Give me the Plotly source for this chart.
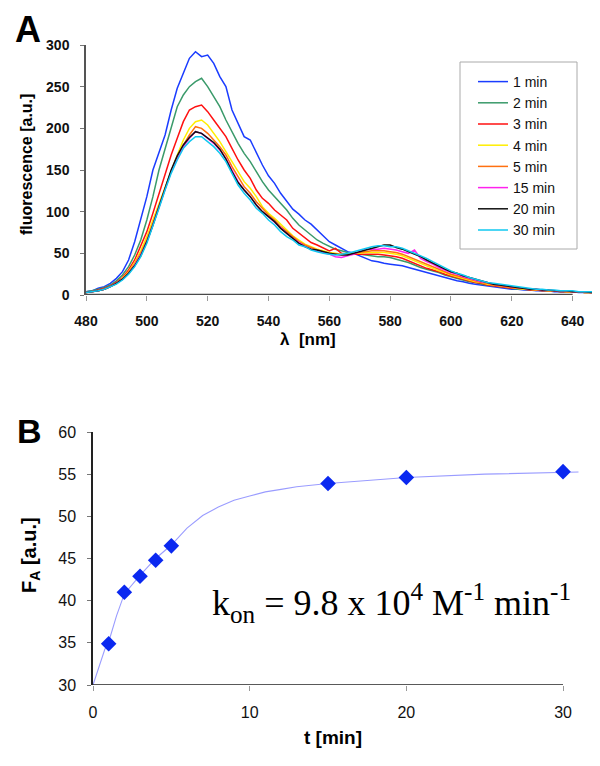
import plotly.graph_objects as go

# ---------------- Panel A data ----------------
wavelength = list(range(480, 652, 2))

s_1min = [4, 5, 8, 10, 14, 20, 28, 42, 64, 90, 118, 150, 172, 192, 222, 248, 266, 284, 292, 286,
          288, 278, 262, 250, 222, 206, 190, 186, 170, 156, 143, 134, 122, 112, 103, 97, 90, 85, 78, 70,
          64, 60, 56, 52, 50, 47, 44, 41, 40, 38, 37, 36, 35, 33, 31, 29, 27, 25, 23, 21,
          19, 17, 16, 14, 13, 12, 11, 10, 9, 8, 7, 7, 6, 6, 5, 5, 5, 4, 4, 4,
          4, 3, 3, 3, 3, 3]
s_2min = [4, 5, 7, 9, 12, 17, 24, 34, 48, 66, 90, 118, 150, 176, 202, 226, 240, 250, 256, 260,
          250, 238, 226, 210, 196, 182, 170, 160, 148, 136, 126, 118, 110, 102, 92, 84, 78, 72, 66, 62,
          58, 55, 53, 51, 50, 49, 48, 47, 46, 46, 45, 43, 41, 39, 36, 33, 31, 29, 27, 24,
          22, 20, 18, 16, 15, 13, 12, 11, 10, 9, 8, 7, 7, 6, 6, 5, 5, 5, 4, 4,
          4, 4, 3, 3, 3, 3]
s_3min = [3, 4, 6, 8, 11, 15, 21, 30, 42, 58, 76, 98, 122, 146, 168, 188, 208, 222, 226, 228,
          220, 210, 200, 190, 176, 162, 150, 140, 126, 116, 110, 102, 96, 90, 80, 74, 68, 63, 60, 56,
          53, 56, 50, 49, 49, 49, 49, 49, 49, 48, 47, 46, 44, 41, 38, 35, 32, 30, 28, 25,
          23, 21, 19, 17, 15, 14, 12, 11, 10, 9, 8, 8, 7, 6, 6, 5, 5, 5, 4, 4,
          4, 4, 3, 3, 3, 3]
s_4min = [3, 4, 5, 7, 10, 14, 20, 28, 39, 53, 70, 90, 110, 128, 148, 168, 186, 200, 208, 210,
          204, 194, 184, 172, 160, 148, 136, 128, 118, 106, 98, 92, 85, 79, 71, 66, 61, 58, 55, 53,
          51, 50, 49, 49, 50, 50, 51, 51, 51, 51, 50, 49, 47, 44, 41, 38, 35, 32, 29, 27,
          24, 22, 20, 18, 16, 15, 13, 12, 11, 10, 9, 8, 7, 7, 6, 6, 5, 5, 5, 4,
          4, 4, 3, 3, 3, 3]
s_5min = [3, 4, 5, 7, 10, 14, 19, 27, 37, 50, 66, 86, 108, 128, 148, 166, 180, 192, 202, 200,
          194, 186, 178, 168, 154, 142, 130, 122, 112, 104, 96, 90, 82, 76, 70, 64, 60, 57, 54, 52,
          50, 49, 49, 49, 50, 51, 52, 53, 53, 53, 52, 51, 49, 46, 43, 40, 37, 34, 31, 28,
          25, 23, 21, 19, 17, 15, 14, 12, 11, 10, 9, 8, 8, 7, 6, 6, 5, 5, 5, 4,
          4, 4, 3, 3, 3, 3]
s_15min = [3, 4, 5, 7, 10, 14, 19, 26, 36, 48, 64, 84, 106, 128, 148, 164, 178, 188, 196, 194,
           188, 182, 174, 164, 150, 136, 126, 118, 108, 100, 94, 87, 80, 74, 68, 63, 58, 55, 53, 51,
           49, 46, 45, 47, 49, 52, 55, 55, 55, 56, 55, 54, 52, 50, 54, 44, 40, 37, 33, 30,
           27, 25, 22, 20, 18, 16, 15, 13, 12, 11, 10, 9, 8, 7, 7, 6, 6, 5, 5, 5,
           4, 4, 4, 3, 4, 3]
s_20min = [3, 4, 5, 7, 10, 14, 19, 26, 35, 47, 64, 84, 106, 130, 150, 167, 180, 189, 196, 194,
           188, 183, 175, 163, 148, 135, 126, 118, 108, 100, 94, 88, 80, 74, 68, 62, 58, 55, 54, 52,
           50, 49, 48, 48, 50, 52, 54, 56, 58, 60, 60, 57, 55, 52, 49, 46, 42, 38, 35, 31,
           28, 26, 23, 21, 19, 17, 15, 13, 12, 11, 10, 9, 8, 7, 7, 6, 6, 5, 5, 5,
           4, 4, 4, 3, 3, 3]
s_30min = [3, 4, 5, 7, 10, 13, 18, 25, 34, 46, 62, 82, 104, 126, 146, 162, 176, 184, 190, 190,
           184, 178, 170, 160, 146, 132, 122, 114, 104, 98, 90, 84, 76, 70, 66, 60, 58, 54, 52, 50,
           49, 48, 49, 50, 52, 54, 56, 58, 59, 59, 58, 58, 56, 53, 50, 47, 44, 40, 36, 32,
           29, 26, 24, 21, 19, 17, 15, 14, 13, 12, 11, 10, 9, 8, 7, 7, 6, 6, 5, 5,
           5, 4, 4, 4, 3, 3]

series_names = ["1 min", "2 min", "3 min", "4 min", "5 min", "15 min", "20 min", "30 min"]
series_values = [s_1min, s_2min, s_3min, s_4min, s_5min, s_15min, s_20min, s_30min]
series_colors = ["#1a3cff", "#3a9a6a", "#ff1010", "#ffee00", "#ff7010", "#ff22ee", "#111111", "#10c8f0"]

xticks_a = [480, 500, 520, 540, 560, 580, 600, 620, 640]
yticks_a = [0, 50, 100, 150, 200, 250, 300]

# ---------------- Panel B data ----------------
t_points = [1, 2, 3, 4, 5, 15, 20, 30]
fa_points = [34.9, 41.0, 42.9, 44.8, 46.5, 53.9, 54.6, 55.3]

t_fit = [0, 0.25, 0.5, 0.75, 1, 1.5, 2, 3, 4, 5, 6, 7, 8, 9, 10, 11, 12, 13, 15, 17, 20, 25, 30, 31]
fa_fit = [30, 31.5, 33, 34.2, 35.1, 38.2, 40.8, 43, 45, 46.6, 48.6, 50.1, 51.1, 51.9, 52.4, 52.9,
          53.2, 53.5, 53.9, 54.2, 54.6, 55.0, 55.2, 55.25]

xticks_b = [0, 10, 20, 30]
yticks_b = [30, 35, 40, 45, 50, 55, 60]

# the page body has an 8 px default margin, so the figure is drawn 8 px in
OFF = 8
W, H = 600 - OFF, 766 - OFF
def px(x):
    return (x - OFF) / W
def py(y):
    return 1 - (y - OFF) / H

fig = go.Figure()

for name, vals, col in zip(series_names, series_values, series_colors):
    fig.add_trace(go.Scatter(x=wavelength, y=vals, mode="lines", name=name,
                             line=dict(color=col, width=1.5), xaxis="x", yaxis="y"))

fig.add_trace(go.Scatter(x=t_fit, y=fa_fit, mode="lines", showlegend=False,
                         line=dict(color="#9a9cff", width=1.1), xaxis="x2", yaxis="y2"))
fig.add_trace(go.Scatter(x=t_points, y=fa_points, mode="markers", showlegend=False,
                         marker=dict(symbol="diamond", size=12, color="#0a28f0"),
                         xaxis="x2", yaxis="y2"))

tickfont_a = dict(family="Liberation Sans, Arial", size=14, color="#111111")
tickfont_b = dict(family="Liberation Sans, Arial", size=16, color="#111111")

fig.update_layout(
    template="none",
    width=W, height=H,
    margin=dict(l=0, r=0, t=0, b=0, pad=0),
    paper_bgcolor="white", plot_bgcolor="white",
    xaxis=dict(domain=[px(86), px(600)], range=[480, 649], tickvals=xticks_a,
               ticktext=["<b>%d</b>" % v for v in xticks_a], tickfont=tickfont_a,
               ticks="outside", ticklen=5, tickcolor="#999999", showgrid=False,
               zeroline=False, showline=False, anchor="y", automargin=False,
               ticklabelstandoff=8),
    yaxis=dict(domain=[py(295), py(45)], range=[0, 300], tickvals=yticks_a,
               ticktext=["<b>%d</b>" % v for v in yticks_a], tickfont=tickfont_a,
               ticks="outside", ticklen=4, tickcolor="#777777", showgrid=False,
               zeroline=False, showline=True, linecolor="#555555", linewidth=1.5,
               anchor="x", automargin=False, ticklabelstandoff=8),
    xaxis2=dict(domain=[px(93), px(578.7)], range=[0, 31], tickvals=xticks_b,
                tickfont=tickfont_b, ticks="outside", ticklen=5, tickcolor="#999999",
                showgrid=False, zeroline=False, showline=False, anchor="y2",
                automargin=False, ticklabelstandoff=8),
    yaxis2=dict(domain=[py(685), py(432)], range=[30, 60], tickvals=yticks_b,
                tickfont=tickfont_b, ticks="outside", ticklen=4, tickcolor="#777777",
                showgrid=False, zeroline=False, showline=True, linecolor="#222222",
                linewidth=1.5, anchor="x2", automargin=False, ticklabelstandoff=8),
    legend=dict(x=px(473), y=py(66), xanchor="left", yanchor="top",
                borderwidth=0, bgcolor="rgba(0,0,0,0)",
                font=dict(family="Liberation Sans, Arial", size=14, color="#111111"),
                tracegroupgap=0),
    showlegend=True,
)

# legend frame as in the reference
fig.add_shape(type="rect", xref="paper", yref="paper", x0=px(460), x1=px(577),
              y0=py(249), y1=py(62), line=dict(color="#aaaaaa", width=1),
              fillcolor="white", layer="below")
# axis baselines stopping at the last tick, as in the reference
fig.add_shape(type="line", xref="x", yref="y", x0=480, x1=640, y0=0, y1=0,
              line=dict(color="#4a4a4a", width=2.5))
fig.add_shape(type="line", xref="x2", yref="y2", x0=0, x1=30, y0=30, y1=30,
              line=dict(color="#222222", width=1.5))

def label(text, x, y, size, angle=0, family="Liberation Sans, Arial", xanchor="center"):
    return dict(text=text, x=px(x), y=py(y), xref="paper", yref="paper",
                xanchor=xanchor, yanchor="middle", textangle=angle, showarrow=False,
                font=dict(family=family, size=size, color="black"))

ann = [
    label("<b>A</b>", 28, 29, 36),
    label("<b>B</b>", 29, 431, 34),
    label("<b>fluorescence [a.u.]</b>", 27, 165, 16, angle=-90),
    label("<b>λ  [nm]</b>", 308, 340, 17),
    label("<b>F<sub>A</sub> [a.u.]</b>", 30, 555, 20, angle=-90),
    label("<b>t [min]</b>", 333, 737, 19),
    label("k<sub>on</sub> = 9.8 x 10<sup>4</sup> M<sup>-1</sup> min<sup>-1</sup>", 210, 603, 36,
          family="Liberation Serif, Times New Roman", xanchor="left"),
]
fig.update_layout(annotations=ann)

fig.write_html("out.html")
